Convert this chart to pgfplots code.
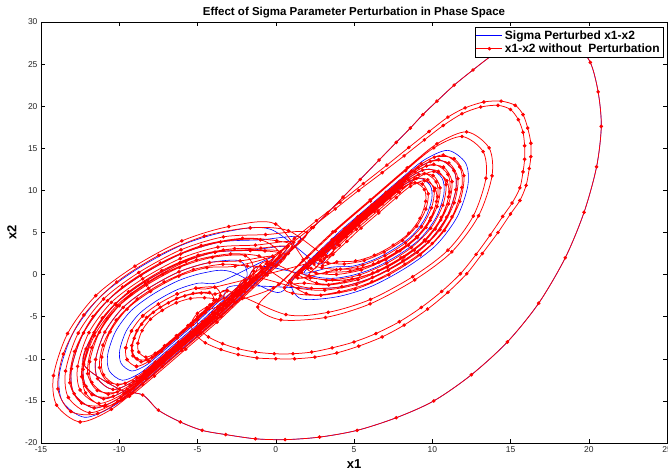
\documentclass[border=0pt]{standalone}
\usepackage{fontspec}
\setmainfont{Liberation Sans}
\usepackage{pgfplots}
\pgfplotsset{compat=1.18}
\begin{document}
\begin{tikzpicture}
\begin{axis}[name=ax,
 width=626pt, height=421pt, scale only axis,
 xmin=-15, xmax=25, ymin=-20, ymax=30,
 xtick={-15,-10,...,25}, ytick={-20,-15,...,30},
 tick align=inside, major tick length=4pt,
 tick style={black, line width=0.5pt},
 axis line style={line width=0.9pt},
 ticklabel style={font=\fontsize{8.5}{9}\selectfont, text=black!85},
 /pgf/number format/assume math mode=true,
 title={Effect of Sigma Parameter Perturbation in Phase Space},
 title style={font=\fontsize{11.5}{13}\selectfont\bfseries, yshift=-5pt},
 xlabel={x1}, ylabel={x2},
 label style={font=\fontsize{13}{14}\selectfont\bfseries},
 ylabel style={yshift=2pt},
 legend style={at={(1,1)}, anchor=north east, xshift=-4pt, yshift=-5pt, font=\fontsize{12}{13}\selectfont\bfseries, inner sep=1.2pt, row sep=-1pt},
 legend cell align=left,
]
\addplot[color=blue, line width=0.6pt, smooth, tension=0.5,
 legend image code/.code={\draw[blue, line width=1pt] (0pt,0pt) -- (26pt,0pt);}] coordinates {
(0.0,1.0) (0.3,1.6) (0.8,2.5) (1.5,3.9) (2.4,5.6) (3.3,7.3) (4.3,9.2) (5.4,11.3) (6.6,13.6) (7.7,15.7) (8.6,17.4) (9.4,19.0) (10.3,20.6) (11.4,22.5) (12.6,24.3) (13.8,26.0) (15.0,27.3) (16.4,28.2) (17.9,28.3) (19.2,27.2) (20.1,25.2) (20.6,21.7) (20.8,17.6) (20.5,12.8) (19.7,7.4) (18.5,2.0) (16.8,-3.4) (14.8,-8.0) (12.5,-11.9) (10.1,-15.0) (7.7,-17.0) (5.2,-18.5) (2.8,-19.3) (0.6,-19.6) (-1.3,-19.5) (-3.2,-19.0) (-4.7,-18.5) (-6.1,-17.5) (-7.5,-16.1) (-8.5,-14.3) (-10.0,-13.6)
(-12.28,-10.63) (-11.6,-6.88) (-10.25,-3.5) (-8.38,-0.88) (-6.13,1.38) (-3.88,2.65) (-1.63,2.88)
(0.73,3.28) (-0.55,0.73) (-2.25,-2.25) (-3.95,-5.23) (-6.08,-8.63) (-8.2,-12.03) (-9.9,-14.58) (-11.6,-15.85) (-12.88,-14.15) (-13.05,-11.18) (-12.28,-6.93) (-10.75,-3.1) (-8.63,-0.13) (-6.08,2.43) (-3.53,3.87) (-0.98,4.13)
(1.58,4.43) (0.15,1.58) (-1.75,-1.75) (-3.65,-5.08) (-6.03,-8.88) (-8.4,-12.68) (-10.3,-15.53) (-12.2,-16.95) (-13.63,-15.05) (-13.82,-11.73) (-12.96,-6.98) (-11.25,-2.7) (-8.88,0.63) (-6.03,3.48) (-3.18,5.09) (-0.33,5.38)
(2.68,1.33) (3.35,2.68) (4.25,4.25) (5.15,5.83) (6.28,7.63) (7.4,9.43) (8.3,10.78) (9.2,11.45) (9.88,10.55) (9.97,8.98) (9.56,6.73) (8.75,4.7) (7.63,3.13) (6.28,1.78) (4.93,1.01) (3.58,0.88)
(1.83,0.18) (2.65,1.83) (3.75,3.75) (4.85,5.68) (6.23,7.88) (7.6,10.08) (8.7,11.73) (9.8,12.55) (10.63,11.45) (10.74,9.53) (10.24,6.78) (9.25,4.3) (7.88,2.38) (6.23,0.73) (4.58,-0.21) (2.93,-0.38)
(-0.98,0.98) (-1.95,-0.98) (-3.25,-3.25) (-4.55,-5.53) (-6.18,-8.13) (-7.8,-10.73) (-9.1,-12.68) (-10.4,-13.65) (-11.38,-12.35) (-11.51,-10.08) (-10.92,-6.83) (-9.75,-3.9) (-8.13,-1.63) (-6.18,0.33) (-4.23,1.43) (-2.28,1.63)
(-1.83,-0.18) (-2.65,-1.83) (-3.75,-3.75) (-4.85,-5.68) (-6.23,-7.88) (-7.6,-10.08) (-8.7,-11.73) (-9.8,-12.55) (-10.63,-11.45) (-10.74,-9.53) (-10.24,-6.78) (-9.25,-4.3) (-7.88,-2.38) (-6.23,-0.73) (-4.58,0.21) (-2.93,0.38)
(0.13,-2.13) (1.25,0.13) (2.75,2.75) (4.25,5.38) (6.13,8.38) (8.0,11.38) (9.5,13.63) (11.0,14.75) (12.13,13.25) (12.28,10.63) (11.6,6.88) (10.25,3.5) (8.38,0.88) (6.13,-1.38) (3.88,-2.65) (1.63,-2.88)
(0.98,-0.98) (1.95,0.98) (3.25,3.25) (4.55,5.53) (6.18,8.13) (7.8,10.73) (9.1,12.68) (10.4,13.65) (11.38,12.35) (11.51,10.08) (10.92,6.83) (9.75,3.9) (8.13,1.63) (6.18,-0.33) (4.23,-1.43) (2.28,-1.63)
(-2.68,-1.33) (-3.35,-2.68) (-4.25,-4.25) (-5.15,-5.83) (-6.28,-7.63) (-7.4,-9.43) (-8.3,-10.78) (-9.2,-11.45) (-9.88,-10.55) (-9.97,-8.98) (-9.56,-6.73) (-8.75,-4.7) (-7.63,-3.13) (-6.28,-1.78) (-4.93,-1.01) (-3.58,-0.88)
(-0.13,2.13) (-1.25,-0.13) (-2.75,-2.75) (-4.25,-5.38) (-6.13,-8.38) (-8.0,-11.38) (-9.5,-13.63) (-11.0,-14.75) (-12.13,-13.25) (-12.28,-10.63) (-11.6,-6.88) (-10.25,-3.5) (-8.38,-0.88) (-6.13,1.38) (-3.88,2.65) (-1.63,2.88)
};
\addlegendentry{Sigma Perturbed x1-x2}
\addplot[color=red, line width=0.75pt, smooth, tension=0.5, mark=*, mark size=1.4pt, mark options={solid},
 legend image code/.code={\draw[red, line width=1pt] (0pt,0pt) -- (26pt,0pt); \fill[red] (13pt,0pt) circle (1.4pt);}] coordinates {
(0.0,1.0) (0.3,1.6) (0.8,2.5) (1.5,3.9) (2.4,5.6) (3.3,7.3) (4.3,9.2) (5.4,11.3) (6.6,13.6) (7.7,15.7) (8.6,17.4) (9.4,19.0) (10.3,20.6) (11.4,22.5) (12.6,24.3) (13.8,26.0) (15.0,27.3) (16.4,28.2) (17.9,28.3) (19.2,27.2) (20.1,25.2) (20.6,21.7) (20.8,17.6) (20.5,12.8) (19.7,7.4) (18.5,2.0) (16.8,-3.4) (14.8,-8.0) (12.5,-11.9) (10.1,-15.0) (7.7,-17.0) (5.2,-18.5) (2.8,-19.3) (0.6,-19.6) (-1.3,-19.5) (-3.2,-19.0) (-4.7,-18.5) (-6.1,-17.5) (-7.5,-16.1) (-8.5,-14.3) (-10.0,-13.6)
(-12.28,-10.63) (-11.6,-6.88) (-10.25,-3.5) (-8.38,-0.88) (-6.13,1.38) (-3.88,2.65) (-1.63,2.88)
(0.3,2.7) (-0.9,0.3) (-2.5,-2.5) (-4.1,-5.3) (-6.1,-8.5) (-8.1,-11.7) (-9.7,-14.1) (-11.3,-15.3) (-12.5,-13.7) (-12.66,-10.9) (-11.94,-6.9) (-10.5,-3.3) (-8.5,-0.5) (-6.1,1.9) (-3.7,3.26) (-1.3,3.5)
(1.15,3.85) (-0.2,1.15) (-2.0,-2.0) (-3.8,-5.15) (-6.05,-8.75) (-8.3,-12.35) (-10.1,-15.05) (-11.9,-16.4) (-13.25,-14.6) (-13.43,-11.45) (-12.62,-6.95) (-11.0,-2.9) (-8.75,0.25) (-6.05,2.95) (-3.35,4.48) (-0.65,4.75)
(2.0,5.0) (0.5,2.0) (-1.5,-1.5) (-3.5,-5.0) (-6.0,-9.0) (-8.5,-13.0) (-10.5,-16.0) (-12.5,-17.5) (-14.0,-15.5) (-14.2,-12.0) (-13.3,-7.0) (-11.5,-2.5) (-9.0,1.0) (-6.0,4.0) (-3.0,5.7) (0.0,6.0)
(2.25,0.75) (3,2.25) (4,4) (5,5.75) (6.25,7.75) (7.5,9.75) (8.5,11.25) (9.5,12) (10.25,11) (10.35,9.25) (9.9,6.75) (9,4.5) (7.75,2.75) (6.25,1.25) (4.75,0.4) (3.25,0.25)
(1.4,-0.4) (2.3,1.4) (3.5,3.5) (4.7,5.6) (6.2,8) (7.7,10.4) (8.9,12.2) (10.1,13.1) (11,11.9) (11.12,9.8) (10.58,6.8) (9.5,4.1) (8,2) (6.2,0.2) (4.4,-0.82) (2.6,-1)
(-0.55,1.55) (-1.6,-0.55) (-3.0,-3.0) (-4.4,-5.45) (-6.15,-8.25) (-7.9,-11.05) (-9.3,-13.15) (-10.7,-14.2) (-11.75,-12.8) (-11.89,-10.35) (-11.26,-6.85) (-10.0,-3.7) (-8.25,-1.25) (-6.15,0.85) (-4.05,2.04) (-1.95,2.25)
(-1.4,0.4) (-2.3,-1.4) (-3.5,-3.5) (-4.7,-5.6) (-6.2,-8.0) (-7.7,-10.4) (-8.9,-12.2) (-10.1,-13.1) (-11.0,-11.9) (-11.12,-9.8) (-10.58,-6.8) (-9.5,-4.1) (-8.0,-2.0) (-6.2,-0.2) (-4.4,0.82) (-2.6,1.0)
(-0.2,2.2) (1.2,4.3) (2.6,6.4) (4.1,8.6) (5.6,10.8) (7.1,13.0) (8.5,15.1) (9.8,17.0) (11.0,18.7) (12.1,19.8) (13.3,20.5) (14.4,20.6) (15.3,20.1) (15.8,19.0) (16.1,17.4) (16.3,15.6) (16.3,14.0) (16.2,12.6) (16.0,10.6) (15.6,8.8) (15.0,7.2) (14.2,5.0) (13.2,2.5) (12.2,0.1) (11.0,-2.1) (9.7,-4.1) (8.2,-6.0) (6.8,-7.4) (5.3,-8.5) (3.9,-9.3) (2.5,-9.8) (1.2,-10.0) (0.0,-10.0) (-1.2,-9.9) (-2.4,-9.5) (-3.5,-8.9) (-4.5,-8.1) (-5.2,-7.0) (-5.4,-5.8) (-5.0,-4.6) (-4.2,-3.6)
(-3.3,-2.8) (-2.0,-0.8) (-0.6,1.3) (0.8,3.4) (2.3,5.6) (3.8,7.8) (5.3,10.0) (6.8,12.1) (8.2,14.1) (9.5,16.0) (10.7,17.7) (11.9,19.1) (13.1,19.9) (14.2,20.1) (15.0,19.6) (15.5,18.4) (15.8,16.9) (15.9,15.3) (15.9,13.7) (15.8,12.2) (15.6,10.3) (15.1,8.5) (14.5,6.9) (13.7,4.7) (12.8,2.4) (11.8,0.1) (10.6,-2.0) (9.3,-3.9) (7.9,-5.6) (6.4,-7.0) (5.0,-8.0) (3.6,-8.7) (2.3,-9.2) (1.1,-9.4) (-0.1,-9.4) (-1.3,-9.2) (-2.4,-8.8) (-3.4,-8.2) (-4.3,-7.4) (-4.9,-6.4) (-5.0,-5.3) (-4.5,-4.4) (-3.7,-3.8)
(-0.15,-1.58) (1.75,1.75) (3.65,5.08) (6.03,8.88) (8.4,12.68) (10.3,15.53) (12.2,16.95) (13.63,15.05) (13.82,11.73) (12.96,6.98) (11.25,2.7) (8.88,-0.63) (6.03,-3.48) (3.18,-5.09) (0.33,-5.38)
(-1.15,-3.85) (0.2,-1.15) (2,2) (3.8,5.15) (6.05,8.75) (8.3,12.35) (10.1,15.05) (11.9,16.4) (13.25,14.6) (13.43,11.45) (12.62,6.95) (11,2.9) (8.75,-0.25) (6.05,-2.95) (3.35,-4.48) (0.65,-4.75)
(-3.1,-1.9) (-3.7,-3.1) (-4.5,-4.5) (-5.3,-5.9) (-6.3,-7.5) (-7.3,-9.1) (-8.1,-10.3) (-8.9,-10.9) (-9.5,-10.1) (-9.58,-8.7) (-9.22,-6.7) (-8.5,-4.9) (-7.5,-3.5) (-6.3,-2.3) (-5.1,-1.62) (-3.9,-1.5)
(-3.53,-2.48) (-4.05,-3.53) (-4.75,-4.75) (-5.45,-5.98) (-6.33,-7.38) (-7.2,-8.78) (-7.9,-9.83) (-8.6,-10.35) (-9.13,-9.65) (-9.2,-8.43) (-8.88,-6.68) (-8.25,-5.1) (-7.38,-3.88) (-6.33,-2.83) (-5.28,-2.23) (-4.23,-2.13)
(-3.95,-3.05) (-4.4,-3.95) (-5.0,-5.0) (-5.6,-6.05) (-6.35,-7.25) (-7.1,-8.45) (-7.7,-9.35) (-8.3,-9.8) (-8.75,-9.2) (-8.81,-8.15) (-8.54,-6.65) (-8.0,-5.3) (-7.25,-4.25) (-6.35,-3.35) (-5.45,-2.84) (-4.55,-2.75)
(-3.79,-3.01) (-4.4,-4.14) (-5.1,-5.37) (-5.89,-6.68) (-6.77,-8.08) (-7.55,-9.31) (-8.25,-10.09) (-8.87,-10.0) (-9.17,-9.04) (-9.04,-7.56) (-8.57,-5.89) (-7.82,-4.49) (-6.86,-3.36) (-5.81,-2.53) (-4.76,-2.18) (-3.88,-2.31)
(-3.1,-1.9) (-3.7,-3.1) (-4.5,-4.5) (-5.3,-5.9) (-6.3,-7.5) (-7.3,-9.1) (-8.1,-10.3) (-8.9,-10.9) (-9.5,-10.1) (-9.58,-8.7) (-9.22,-6.7) (-8.5,-4.9) (-7.5,-3.5) (-6.3,-2.3) (-5.1,-1.62) (-3.9,-1.5)
(3.1,1.9) (3.7,3.1) (4.5,4.5) (5.3,5.9) (6.3,7.5) (7.3,9.1) (8.1,10.3) (8.9,10.9) (9.5,10.1) (9.58,8.7) (9.22,6.7) (8.5,4.9) (7.5,3.5) (6.3,2.3) (5.1,1.62) (3.9,1.5)
(2.98,1.03) (3.65,2.38) (4.55,3.95) (5.45,5.53) (6.58,7.33) (7.7,9.13) (8.6,10.48) (9.5,11.15) (10.18,10.25) (10.27,8.68) (9.86,6.43) (9.05,4.4) (7.93,2.83) (6.58,1.48) (5.23,0.71) (3.88,0.58)
(2.13,-0.12) (2.95,1.53) (4.05,3.45) (5.15,5.38) (6.53,7.58) (7.9,9.78) (9.0,11.43) (10.1,12.25) (10.93,11.15) (11.04,9.23) (10.54,6.48) (9.55,4.0) (8.18,2.08) (6.53,0.43) (4.88,-0.51) (3.23,-0.68)
(1.66,0.25) (2.76,2.29) (4.01,4.48) (5.41,6.82) (6.97,9.32) (8.38,11.51) (9.63,12.91) (10.72,12.76) (11.26,11.04) (11.04,8.38) (10.19,5.41) (8.85,2.91) (7.13,0.88) (5.26,-0.6) (3.38,-1.23) (1.82,-1.01)
(0.98,-0.98) (1.95,0.98) (3.25,3.25) (4.55,5.53) (6.18,8.13) (7.8,10.73) (9.1,12.68) (10.4,13.65) (11.38,12.35) (11.51,10.08) (10.92,6.83) (9.75,3.9) (8.13,1.63) (6.18,-0.33) (4.23,-1.43) (2.28,-1.63)
(0.89,-0.75) (2.16,1.61) (3.61,4.15) (5.24,6.87) (7.05,9.77) (8.68,12.31) (10.13,13.94) (11.4,13.76) (12.02,11.76) (11.76,8.68) (10.78,5.24) (9.23,2.34) (7.23,-0.03) (5.06,-1.74) (2.88,-2.46) (1.07,-2.21)
(0.55,-1.55) (1.6,0.55) (3,3) (4.4,5.45) (6.15,8.25) (7.9,11.05) (9.3,13.15) (10.7,14.2) (11.75,12.8) (11.89,10.35) (11.26,6.85) (10,3.7) (8.25,1.25) (6.15,-0.85) (4.05,-2.04) (1.95,-2.25)
(-0.98,0.98) (-1.95,-0.98) (-3.25,-3.25) (-4.55,-5.53) (-6.18,-8.13) (-7.8,-10.73) (-9.1,-12.68) (-10.4,-13.65) (-11.38,-12.35) (-11.51,-10.08) (-10.92,-6.83) (-9.75,-3.9) (-8.13,-1.63) (-6.18,0.33) (-4.23,1.43) (-2.28,1.63)
(-0.13,2.13) (-1.25,-0.13) (-2.75,-2.75) (-4.25,-5.38) (-6.13,-8.38) (-8.0,-11.38) (-9.5,-13.63) (-11.0,-14.75) (-12.13,-13.25) (-12.28,-10.63) (-11.6,-6.88) (-10.25,-3.5) (-8.38,-0.88) (-6.13,1.38) (-3.88,2.65) (-1.63,2.88)
(0.65,2.35) (-0.55,-0.05) (-2.15,-2.85) (-3.75,-5.65) (-5.75,-8.85) (-7.75,-12.05) (-9.35,-14.45) (-10.95,-15.65) (-12.15,-14.05) (-12.31,-11.25) (-11.59,-7.25) (-10.15,-3.65) (-8.15,-0.85) (-5.75,1.55) (-3.35,2.91) (-0.95,3.15)
(0.73,3.28) (-0.55,0.73) (-2.25,-2.25) (-3.95,-5.23) (-6.08,-8.63) (-8.2,-12.03) (-9.9,-14.58) (-11.6,-15.85) (-12.88,-14.15) (-13.05,-11.18) (-12.28,-6.93) (-10.75,-3.1) (-8.63,-0.13) (-6.08,2.43) (-3.53,3.87) (-0.98,4.13)
(0.28,2.26) (-1.26,-0.6) (-3.01,-3.66) (-4.98,-6.94) (-7.16,-10.44) (-9.13,-13.51) (-10.88,-15.48) (-12.41,-15.26) (-13.16,-12.85) (-12.85,-9.13) (-11.67,-4.97) (-9.79,-1.47) (-7.38,1.38) (-4.76,3.44) (-2.13,4.31) (0.06,4.01)
(1.06,3.26) (-0.65,0.08) (-2.61,-3.34) (-4.8,-6.99) (-7.24,-10.89) (-9.43,-14.31) (-11.38,-16.5) (-13.09,-16.26) (-13.92,-13.58) (-13.57,-9.43) (-12.26,-4.8) (-10.16,-0.89) (-7.48,2.28) (-4.56,4.57) (-1.63,5.55) (0.81,5.21)
(3.21,2.26) (3.96,3.64) (4.81,5.13) (5.76,6.72) (6.82,8.42) (7.78,9.91) (8.63,10.86) (9.37,10.76) (9.74,9.59) (9.59,7.78) (9.01,5.76) (8.1,4.06) (6.93,2.68) (5.66,1.68) (4.38,1.26) (3.32,1.41)
(2.83,1.76) (3.66,3.3) (4.61,4.96) (5.68,6.74) (6.86,8.64) (7.93,10.31) (8.88,11.38) (9.71,11.26) (10.12,9.95) (9.95,7.93) (9.31,5.67) (8.29,3.77) (6.98,2.23) (5.56,1.12) (4.13,0.64) (2.95,0.81)
(2.44,1.26) (3.36,2.96) (4.41,4.8) (5.59,6.77) (6.9,8.87) (8.08,10.71) (9.13,11.89) (10.05,11.76) (10.5,10.31) (10.31,8.08) (9.6,5.59) (8.48,3.49) (7.03,1.78) (5.46,0.55) (3.88,0.02) (2.57,0.2)
(2.05,0.76) (3.06,2.63) (4.21,4.64) (5.5,6.79) (6.94,9.09) (8.23,11.11) (9.38,12.4) (10.39,12.26) (10.88,10.68) (10.67,8.23) (9.9,5.5) (8.66,3.2) (7.08,1.33) (5.36,-0.03) (3.63,-0.61) (2.2,-0.4)
(1.28,-0.25) (2.46,1.95) (3.81,4.31) (5.33,6.84) (7.01,9.54) (8.53,11.91) (9.88,13.43) (11.06,13.26) (11.64,11.4) (11.4,8.53) (10.49,5.32) (9.04,2.62) (7.18,0.5) (5.16,-1.17) (3.13,-1.84) (1.45,-1.61)
(-1.66,-0.25) (-2.76,-2.29) (-4.01,-4.48) (-5.41,-6.82) (-6.97,-9.32) (-8.38,-11.51) (-9.63,-12.91) (-10.72,-12.76) (-11.26,-11.04) (-11.04,-8.38) (-10.19,-5.41) (-8.85,-2.91) (-7.13,-0.88) (-5.26,0.6) (-3.38,1.23) (-1.82,1.01)
(-0.89,0.75) (-2.16,-1.61) (-3.61,-4.15) (-5.24,-6.87) (-7.05,-9.77) (-8.68,-12.31) (-10.13,-13.94) (-11.4,-13.76) (-12.02,-11.76) (-11.76,-8.68) (-10.78,-5.24) (-9.23,-2.34) (-7.23,0.03) (-5.06,1.74) (-2.88,2.46) (-1.07,2.21)
(-0.5,1.26) (-1.86,-1.27) (-3.41,-3.99) (-5.15,-6.89) (-7.09,-9.99) (-8.83,-12.71) (-10.38,-14.45) (-11.74,-14.26) (-12.4,-12.13) (-12.12,-8.83) (-11.08,-5.15) (-9.41,-2.05) (-7.28,0.48) (-4.96,2.3) (-2.63,3.08) (-0.69,2.81)
};
\addlegendentry{x1-x2 without\ \ Perturbation}
\end{axis}
\pgfresetboundingbox
\path[use as bounding box] ([xshift=-41pt,yshift=-32pt]ax.south west) rectangle ([xshift=1pt,yshift=22pt]ax.north east);
\end{tikzpicture}
\end{document}
